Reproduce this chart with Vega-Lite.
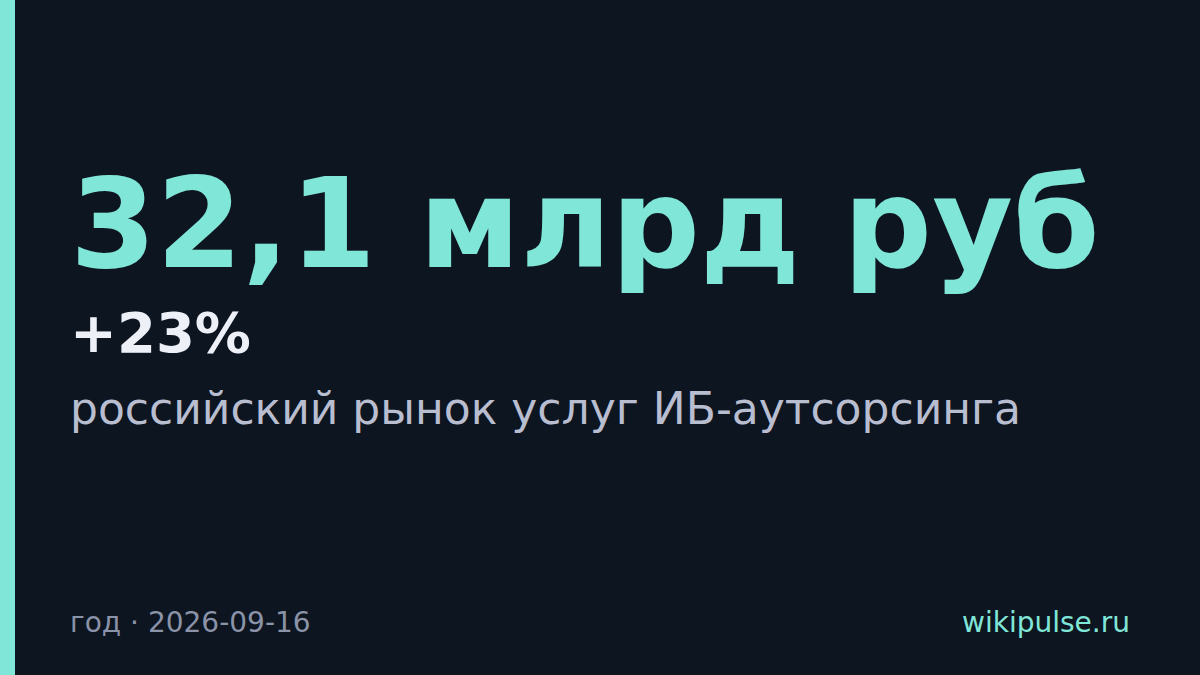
{
  "$schema": "https://vega.github.io/schema/vega-lite/v6.json",
  "width": 1200,
  "height": 675,
  "padding": 0,
  "autosize": {"type": "none"},
  "background": "#0d1520",
  "config": {
    "view": {"stroke": null},
    "font": "DejaVu Sans"
  },
  "data": {
    "values": [
      {"role": "accent", "col": 0, "line": 1, "text": ""},
      {"role": "value", "col": 1, "line": 1, "text": "32,1 млрд руб"},
      {"role": "change", "col": 1, "line": 2, "text": "+23%"},
      {"role": "label", "col": 1, "line": 3, "text": "российский рынок услуг ИБ-аутсорсинга"},
      {"role": "footer", "col": 1, "line": 4, "text": "год · 2026-09-16"},
      {"role": "site", "col": 2, "line": 4, "text": "wikipulse.ru"}
    ]
  },
  "encoding": {
    "x": {
      "field": "col",
      "type": "quantitative",
      "axis": null,
      "scale": {"domain": [0, 1, 2], "range": [7.5, 70, 1130], "zero": false, "nice": false}
    }
  },
  "layer": [
    {
      "transform": [{"filter": "datum.role === 'accent'"}],
      "mark": {"type": "rule", "color": "#80e6d8", "strokeWidth": 15}
    },
    {
      "transform": [{"filter": "datum.role !== 'accent'"}],
      "encoding": {
        "y": {
          "field": "line",
          "type": "quantitative",
          "axis": null,
          "scale": {"domain": [1, 2, 3, 4], "range": [267, 352, 424, 632], "zero": false, "nice": false}
        },
        "text": {"field": "text"}
      },
      "layer": [
        {
          "transform": [{"filter": "datum.role === 'value'"}],
          "mark": {"type": "text", "align": "left", "baseline": "alphabetic", "fontSize": 124, "fontWeight": "bold", "color": "#80e6d8"}
        },
        {
          "transform": [{"filter": "datum.role === 'change'"}],
          "mark": {"type": "text", "align": "left", "baseline": "alphabetic", "fontSize": 56, "fontWeight": "bold", "color": "#eef0f8"}
        },
        {
          "transform": [{"filter": "datum.role === 'label'"}],
          "mark": {"type": "text", "align": "left", "baseline": "alphabetic", "fontSize": 44, "color": "#b8bdd0"}
        },
        {
          "transform": [{"filter": "datum.role === 'footer'"}],
          "mark": {"type": "text", "align": "left", "baseline": "alphabetic", "fontSize": 28, "color": "#8a93a8"}
        },
        {
          "transform": [{"filter": "datum.role === 'site'"}],
          "mark": {"type": "text", "align": "right", "baseline": "alphabetic", "fontSize": 28, "color": "#80e6d8"}
        }
      ]
    }
  ]
}
